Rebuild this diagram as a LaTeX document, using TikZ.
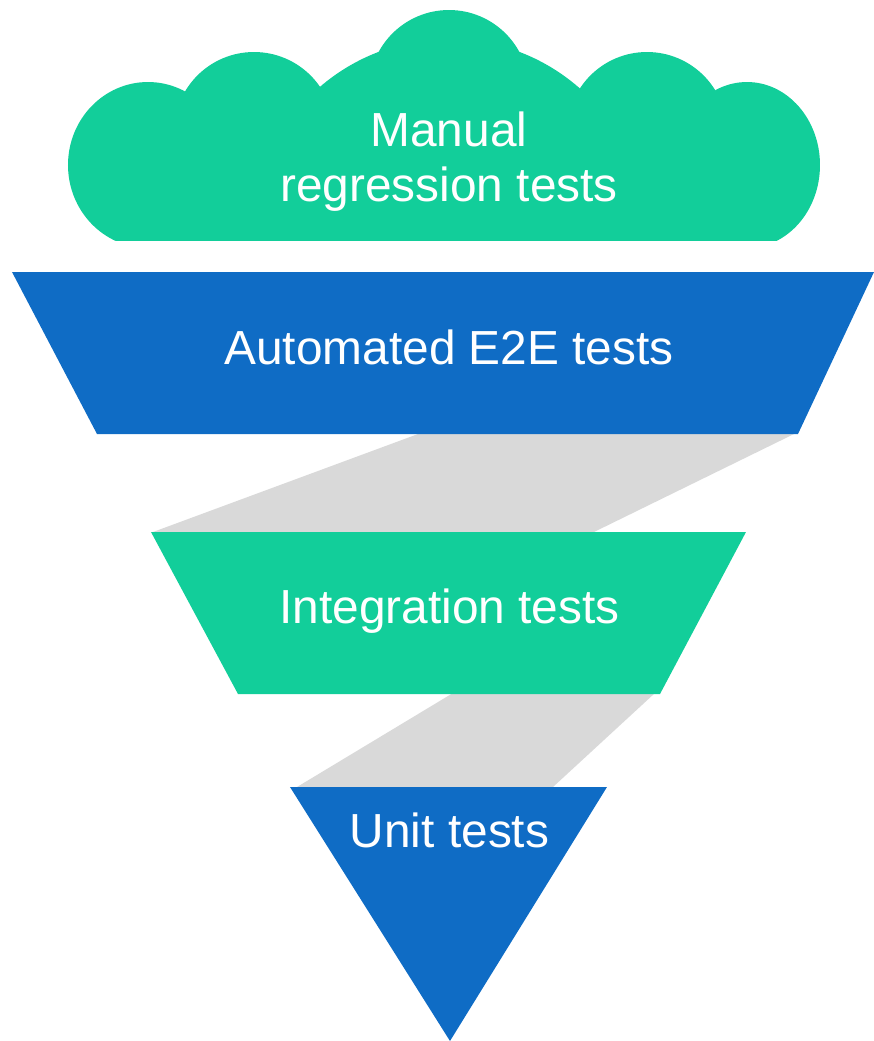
\documentclass[tikz,border=0pt]{standalone}
\usepackage{fontspec}
\setmainfont{Liberation Sans}
\definecolor{tiergreen}{RGB}{18,206,154}
\definecolor{tierblue}{RGB}{15,108,197}
\definecolor{bandgray}{RGB}{217,217,217}
\begin{document}
\begin{tikzpicture}[x=0.01cm,y=-0.01cm]
    \tikzset{
        band/.style={fill=bandgray},
        greentier/.style={fill=tiergreen},
        bluetier/.style={fill=tierblue},
        tierlabel/.style={text=white, inner sep=0pt, font=\fontsize{13.6pt}{15.6pt}\selectfont, align=center}
    }
    \useasboundingbox (0,0) rectangle (874,1041);

    % grey ribbons between the tiers
    \foreach \ta/\tb/\ty/\ba/\bb/\by in {%
        418/794/434/153/594/532,453/655/693/297/553/787%
    }{
        \fill[band] (\ta,\ty) -- (\tb,\ty) -- (\bb,\by) -- (\ba,\by) -- cycle;
    }

    % cloud
    \begin{scope}
        \clip (0,0) rectangle (874,240);
        \fill[greentier] (120,110) rectangle (774,260);
        \fill[greentier] (148,165) ellipse [x radius=80, y radius=83];
        \fill[greentier] (747,165) ellipse [x radius=73, y radius=83];
        \fill[greentier] (254,132) circle [radius=80];
        \fill[greentier] (647,132) circle [radius=80];
        \fill[greentier] (449,237) circle [radius=198];
        \fill[greentier] (449,90) circle [radius=80];
    \end{scope}

    % tiers
    \fill[bluetier] (12,272) -- (874,272) -- (798,434) -- (97,434) -- cycle;
    \fill[greentier] (151,532) -- (746,532) -- (660,694) -- (238,694) -- cycle;
    \fill[bluetier] (290,787) -- (607,787) -- (450,1041) -- cycle;

    \node[tierlabel] (manual) at (449,162) {Manual\\regression tests};
    \node[tierlabel, anchor=base] (e2e) at (449,364) {Automated E2E tests};
    \node[tierlabel, anchor=base] (integration) at (449.5,623) {Integration tests};
    \node[tierlabel, anchor=base] (unit) at (449.5,847) {Unit tests};
\end{tikzpicture}
\end{document}
